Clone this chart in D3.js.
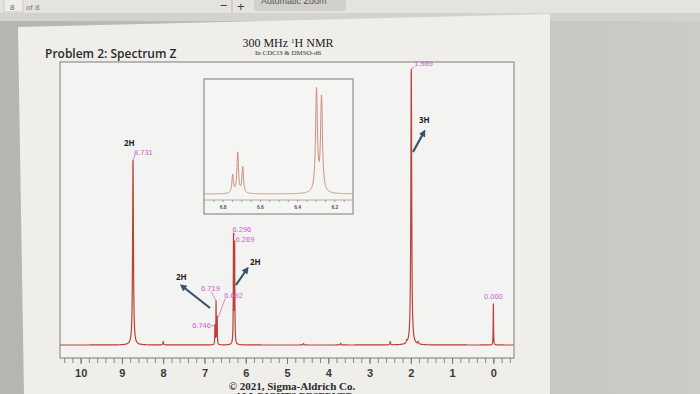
<!DOCTYPE html>
<html>
<head>
<meta charset="utf-8">
<script src="https://cdn.jsdelivr.net/npm/d3@7"></script>
<style>
html, body { margin: 0; padding: 0; overflow: hidden; background: #c4c2be; }
</style>
</head>
<body>
<svg id="chart" width="700" height="394"></svg>
<script>
// Peak list (ppm, relative height, half width in ppm)
const peakShifts = [8.731, 6.746, 6.719, 6.692, 6.296, 6.269, 1.989, 0.000];
const peakHeights = [0.67, 0.07, 0.155, 0.10, 0.39, 0.36, 1.0, 0.15];
const peakWidths = [0.012, 0.005, 0.005, 0.005, 0.006, 0.006, 0.012, 0.005];

// small impurity bumps on the baseline
const minorShifts = [8.0, 4.6, 3.7, 2.5, 2.1, 1.82];
const minorHeights = [0.012, 0.005, 0.006, 0.012, 0.008, 0.008];

const axisTicks = [0, 1, 2, 3, 4, 5, 6, 7, 8, 9, 10];
const insetTicks = [6.8, 6.6, 6.4, 6.2];
const integrals = ["2H", "2H", "2H", "3H"];

const svg = d3.select("#chart");

// ---- screen / page background ----
const defs = svg.append("defs");
const bg = defs.append("linearGradient").attr("id", "bg");
bg.append("stop").attr("offset", "0%").attr("stop-color", "#b7b5b1");
bg.append("stop").attr("offset", "100%").attr("stop-color", "#cdcbc7");
svg.append("rect").attr("width", 700).attr("height", 394).attr("fill", "url(#bg)");
svg.append("rect").attr("width", 700).attr("height", 13).attr("fill", "#e4e3e0");
svg.append("rect").attr("y", 13).attr("width", 700).attr("height", 8).attr("fill", "#d3d2cf");
svg.append("polygon")
    .attr("points", "18,27 550,14 550,394 24,394")
    .attr("fill", "#efeeeb");

// toolbar bits
svg.append("rect").attr("x", 4).attr("y", -2).attr("width", 19).attr("height", 14)
    .attr("fill", "#eeedea").attr("stroke", "#cfcecb");
svg.append("text").attr("x", 10).attr("y", 10).text("8")
    .attr("font-family", "Arial").attr("font-size", 8).attr("fill", "#666");
svg.append("text").attr("x", 26).attr("y", 10).text("of 8")
    .attr("font-family", "Arial").attr("font-size", 8).attr("fill", "#777");
svg.append("text").attr("x", 220).attr("y", 10).text("−")
    .attr("font-family", "Arial").attr("font-size", 13).attr("fill", "#444");
svg.append("line").attr("x1", 232).attr("x2", 232).attr("y1", 0).attr("y2", 13).attr("stroke", "#bbb");
svg.append("text").attr("x", 237).attr("y", 11).text("+")
    .attr("font-family", "Arial").attr("font-size", 13).attr("fill", "#444");
svg.append("rect").attr("x", 254).attr("y", -6).attr("width", 92).attr("height", 17)
    .attr("rx", 2).attr("fill", "#d1d0cd");
svg.append("text").attr("x", 261).attr("y", 4).text("Automatic Zoom")
    .attr("font-family", "Arial").attr("font-size", 9).attr("fill", "#555");

// ---- titles ----
svg.append("text").attr("x", 45).attr("y", 58).text("Problem 2: Spectrum Z")
    .attr("font-family", "Open Sans").attr("font-weight", 600).attr("font-size", 12)
    .attr("fill", "#2a2a2a");
svg.append("text").attr("x", 288).attr("y", 47).attr("text-anchor", "middle")
    .attr("font-family", "Liberation Serif").attr("font-size", 12).attr("fill", "#222")
    .html('300 MHz <tspan font-size="7" dy="-4">1</tspan><tspan dy="4">H NMR</tspan>');
svg.append("text").attr("x", 288).attr("y", 55).attr("text-anchor", "middle")
    .attr("font-family", "Liberation Serif").attr("font-size", 7).attr("fill", "#333")
    .text("In CDCl3 & DMSO-d6");

// ---- main plot ----
const frame = { left: 60, right: 514, top: 62, bottom: 358 };
const x = d3.scaleLinear().domain([10.5, -0.5]).range([frame.left, frame.right]);
const y = d3.scaleLinear().domain([0, 1]).range([345, 69]);

svg.append("rect")
    .attr("x", frame.left).attr("y", frame.top)
    .attr("width", frame.right - frame.left).attr("height", frame.bottom - frame.top)
    .attr("fill", "#f3f3f1").attr("stroke", "#9d9d9d").attr("stroke-width", 1.4);

const lorentz = (d, w) => (w * w) / (w * w + d * d);
const intensity = (ppm) => {
    let s = 0;
    peakShifts.forEach((p, i) => { s += peakHeights[i] * lorentz(ppm - p, peakWidths[i]); });
    minorShifts.forEach((p, i) => { s += minorHeights[i] * lorentz(ppm - p, 0.01); });
    return s;
};

const grid = d3.range(-0.49, 10.5, 0.001).concat(peakShifts).sort(d3.ascending);
const spectrum = grid.map(p => [p, intensity(p)]);

defs.append("clipPath").attr("id", "clipMain").append("rect")
    .attr("x", frame.left).attr("y", frame.top)
    .attr("width", frame.right - frame.left).attr("height", frame.bottom - frame.top);

svg.append("path")
    .datum(spectrum)
    .attr("clip-path", "url(#clipMain)")
    .attr("fill", "none")
    .attr("stroke", "#b8423a")
    .attr("stroke-width", 1.2)
    .attr("d", d3.line().x(d => x(d[0])).y(d => y(d[1])));

// x axis with minor ticks
const minor = d3.range(-0.4, 10.5, 0.2).map(v => +v.toFixed(1));
svg.append("g")
    .attr("transform", `translate(0,${frame.bottom})`)
    .call(d3.axisBottom(x).tickValues(minor).tickSize(5).tickFormat(""))
    .call(g => g.select(".domain").remove())
    .call(g => g.selectAll("line").attr("stroke", "#8a8a8a"));
svg.append("g")
    .attr("transform", `translate(0,${frame.bottom})`)
    .call(d3.axisBottom(x).tickValues(axisTicks).tickSize(6).tickPadding(5))
    .call(g => g.select(".domain").remove())
    .call(g => g.selectAll("line").attr("stroke", "#777"))
    .call(g => g.selectAll("text").attr("font-family", "Arial").attr("font-size", 11)
        .attr("font-weight", "bold").attr("fill", "#3a3a3a"));

// ---- peak labels ----
const magenta = "#cf5fcf";
const plabel = (txt, px, py, anchor) => svg.append("text")
    .attr("x", px).attr("y", py).attr("text-anchor", anchor || "start").text(txt)
    .attr("font-family", "Arial").attr("font-size", 7.5).attr("fill", magenta);
const lead = (x1, y1, x2, y2) => svg.append("line")
    .attr("x1", x1).attr("y1", y1).attr("x2", x2).attr("y2", y2)
    .attr("stroke", magenta).attr("stroke-width", 0.7);

const px = peakShifts.map(p => x(p));
const py = peakShifts.map(p => y(intensity(p)));

plabel("8.731", px[0] + 1, py[0] - 5);
lead(px[0], py[0], px[0] + 2, py[0] - 5);
plabel("1.989", px[6] + 3, py[6] - 3);
lead(px[6], py[6], px[6] + 3, py[6] - 2);
plabel("0.000", px[7], py[7] - 5, "middle");
plabel("6.296", px[4] - 1, py[4] - 1);
plabel("6.269", px[5] + 1, py[4] + 9);
lead(px[4], py[4], px[4] + 2, py[4] + 3);
plabel("6.719", px[2] - 15, py[2] - 10);
lead(px[2] - 5, py[2] - 9, px[2], py[2]);
plabel("6.692", px[3] + 7, py[2] - 3);
lead(px[3] + 8, py[2] - 2, px[3] + 1, py[2] + 17);
plabel("6.746", px[1] - 4, py[2] + 27, "end");
lead(px[1] - 4, py[2] + 25, px[1], py[2] + 25);

// ---- integrals with arrows ----
const arrowColor = "#35536f";
defs.append("marker").attr("id", "head")
    .attr("viewBox", "0 0 10 10").attr("refX", 6).attr("refY", 5)
    .attr("markerWidth", 3.2).attr("markerHeight", 3.2).attr("orient", "auto")
    .append("path").attr("d", "M0,0L10,5L0,10z").attr("fill", arrowColor);

const htext = (txt, tx, ty) => svg.append("text").attr("x", tx).attr("y", ty).text(txt)
    .attr("font-family", "Open Sans").attr("font-weight", 700).attr("font-size", 8)
    .attr("fill", "#1e1e1e");
const arrow = (x1, y1, x2, y2) => svg.append("line")
    .attr("x1", x1).attr("y1", y1).attr("x2", x2).attr("y2", y2)
    .attr("stroke", arrowColor).attr("stroke-width", 2.2).attr("marker-end", "url(#head)");

htext(integrals[0], px[0] - 9, py[0] - 14);
htext(integrals[1], 176, 280);
arrow(210, 308, 182, 286);
htext(integrals[2], 250, 265);
arrow(236, 285, 247, 269);
htext(integrals[3], 419, 123);
arrow(413, 152, 424, 132);

// ---- inset zoom on 6.1 - 6.9 ppm ----
const inset = { left: 204, right: 353, top: 79, bottom: 214, axis: 200 };
const xi = d3.scaleLinear().domain([6.9, 6.1]).range([inset.left, inset.right]);
const yi = d3.scaleLinear().domain([0, 0.42]).range([194, 84]);

svg.append("rect")
    .attr("x", inset.left).attr("y", inset.top)
    .attr("width", inset.right - inset.left).attr("height", inset.bottom - inset.top)
    .attr("fill", "#f5f5f3").attr("stroke", "#8e8e8e").attr("stroke-width", 1.2);

defs.append("clipPath").attr("id", "clipInset").append("rect")
    .attr("x", inset.left).attr("y", inset.top)
    .attr("width", inset.right - inset.left).attr("height", inset.axis - inset.top);

svg.append("path")
    .datum(spectrum.filter(d => d[0] > 6.08 && d[0] < 6.92))
    .attr("clip-path", "url(#clipInset)")
    .attr("fill", "none")
    .attr("stroke", "#cf8e80")
    .attr("stroke-width", 1)
    .attr("d", d3.line().x(d => xi(d[0])).y(d => yi(d[1])));

svg.append("line")
    .attr("x1", inset.left).attr("x2", inset.right)
    .attr("y1", inset.axis).attr("y2", inset.axis)
    .attr("stroke", "#9a9a9a").attr("stroke-width", 0.8);
const insetMinor = d3.range(6.15, 6.9, 0.05).map(v => +v.toFixed(2));
svg.append("g")
    .attr("transform", `translate(0,${inset.axis})`)
    .call(d3.axisBottom(xi).tickValues(insetMinor).tickSize(2).tickFormat(""))
    .call(g => g.select(".domain").remove())
    .call(g => g.selectAll("line").attr("stroke", "#9a9a9a"));
svg.append("g")
    .attr("transform", `translate(0,${inset.axis})`)
    .call(d3.axisBottom(xi).tickValues(insetTicks).tickSize(0).tickPadding(5)
        .tickFormat(d3.format(".1f")))
    .call(g => g.select(".domain").remove())
    .call(g => g.selectAll("text").attr("font-family", "Arial").attr("font-size", 5)
        .attr("font-weight", "bold").attr("fill", "#555"));

// ---- footer ----
svg.append("text").attr("x", 292).attr("y", 390).attr("text-anchor", "middle")
    .text("© 2021, Sigma-Aldrich Co.")
    .attr("font-family", "Liberation Serif").attr("font-weight", "bold")
    .attr("font-size", 11).attr("fill", "#2a2a2a");
svg.append("text").attr("x", 294).attr("y", 400).attr("text-anchor", "middle")
    .text("ALL RIGHTS RESERVED")
    .attr("font-family", "Liberation Serif").attr("font-weight", "bold")
    .attr("font-size", 10).attr("fill", "#2a2a2a");
</script>
</body>
</html>
